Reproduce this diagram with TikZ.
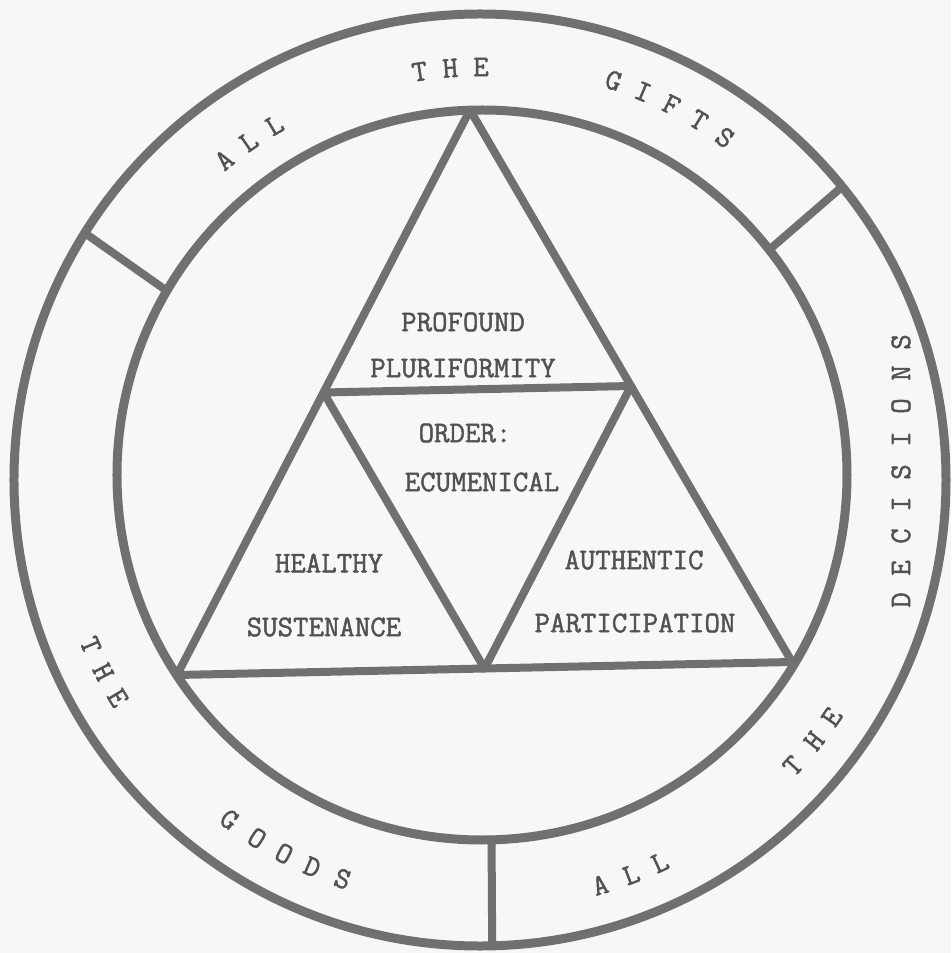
\documentclass[tikz,border=0pt]{standalone}
\usepackage{fontspec}
\newfontfamily\typefont{Latin Modern Mono}[FakeBold=1.5]
\usetikzlibrary{calc}
\definecolor{paper}{RGB}{247,247,247}
\definecolor{inkgray}{RGB}{112,112,112}
\definecolor{typegray}{RGB}{82,82,82}

\begin{document}
\begin{tikzpicture}[x=1pt,y=1pt,
  ring/.style={draw=inkgray,line width=9pt},
  bar/.style={draw=inkgray,line width=8pt,line join=round},
  typed/.style={text=typegray,font=\fontsize{30}{36}\selectfont\typefont,inner sep=0pt}]
\fill[paper] (-481,-476) rectangle (470,477);
\useasboundingbox (-481,-476) rectangle (470,477);
% the two circles
\coordinate (co) at (-1,-3);
\coordinate (ci) at (1,2);
\draw[ring] (co) circle (466);
\draw[ring] (ci) circle (365);
% outer and inner triangle
\coordinate (apex) at (-11,367);
\coordinate (bl) at (-304,-198);
\coordinate (br) at (311,-185);
\coordinate (ml) at ($(apex)!0.5!(bl)$);
\coordinate (mr) at ($(apex)!0.5!(br)$);
\coordinate (mb) at ($(bl)!0.5!(br)$);
\draw[bar] (apex) -- (br) -- (bl) -- cycle;
\draw[bar] (ml) -- (mr) -- (mb) -- cycle;
% dividers of the ring
\coordinate (ulin) at ($(ci)+(149.7:365)$);
\coordinate (ulout) at ($(co)+(148:466)$);
\coordinate (urin) at ($(ci)+(38.1:365)$);
\coordinate (urout) at ($(co)+(39:466)$);
\coordinate (btin) at ($(ci)+(271.5:365)$);
\coordinate (btout) at ($(co)+(271.5:466)$);
\draw[bar] (ulin) -- (ulout);
\draw[bar] (urin) -- (urout);
\draw[bar] (btin) -- (btout);
% texts in the triangles
\node[typed] (profound) at (-18,155) {PROFOUND};
\node[typed] (plurif) at (-18,109) {PLURIFORMITY};
\node[typed] (order) at (-16,44) {ORDER:};
\node[typed] (ecumen) at (1,-5) {ECUMENICAL};
\node[typed] (healthy) at (-152,-86) {HEALTHY};
\node[typed] (susten) at (-157,-150) {SUSTENANCE};
\node[typed] (authen) at (153,-83) {AUTHENTIC};
\node[typed] (partic) at (154,-146) {PARTICIPATION};
% letters round the ring
\foreach \ch/\a/\r [count=\i] in {A/129/408,L/124.7/408,L/120.4/408,T/98.6/410,H/94.3/410,E/90/410,
    G/71.5/418,I/67.2/418,F/62.9/418,T/58.6/418,S/54.3/418}
  \node[typed,rotate=\a-90] (up\i) at (\a:\r) {\ch};
\foreach \ch/\a [count=\i] in {T/203.3,H/207.3,E/211.3,G/233.7,O/238.2,O/242.4,D/246.6,S/251,
    A/286.3,L/290.7,L/294.9,T/317.2,H/321.6,E/325.6}
  \node[typed,rotate=\a+90] (lo\i) at (\a:425) {\ch};
\foreach \ch/\y [count=\i] in {D/-123,E/-91,C/-59,I/-27,S/5,I/38,O/71,N/104,S/135}
  \node[typed,rotate=90] (dec\i) at (420,\y) {\ch};
\end{tikzpicture}
\end{document}
